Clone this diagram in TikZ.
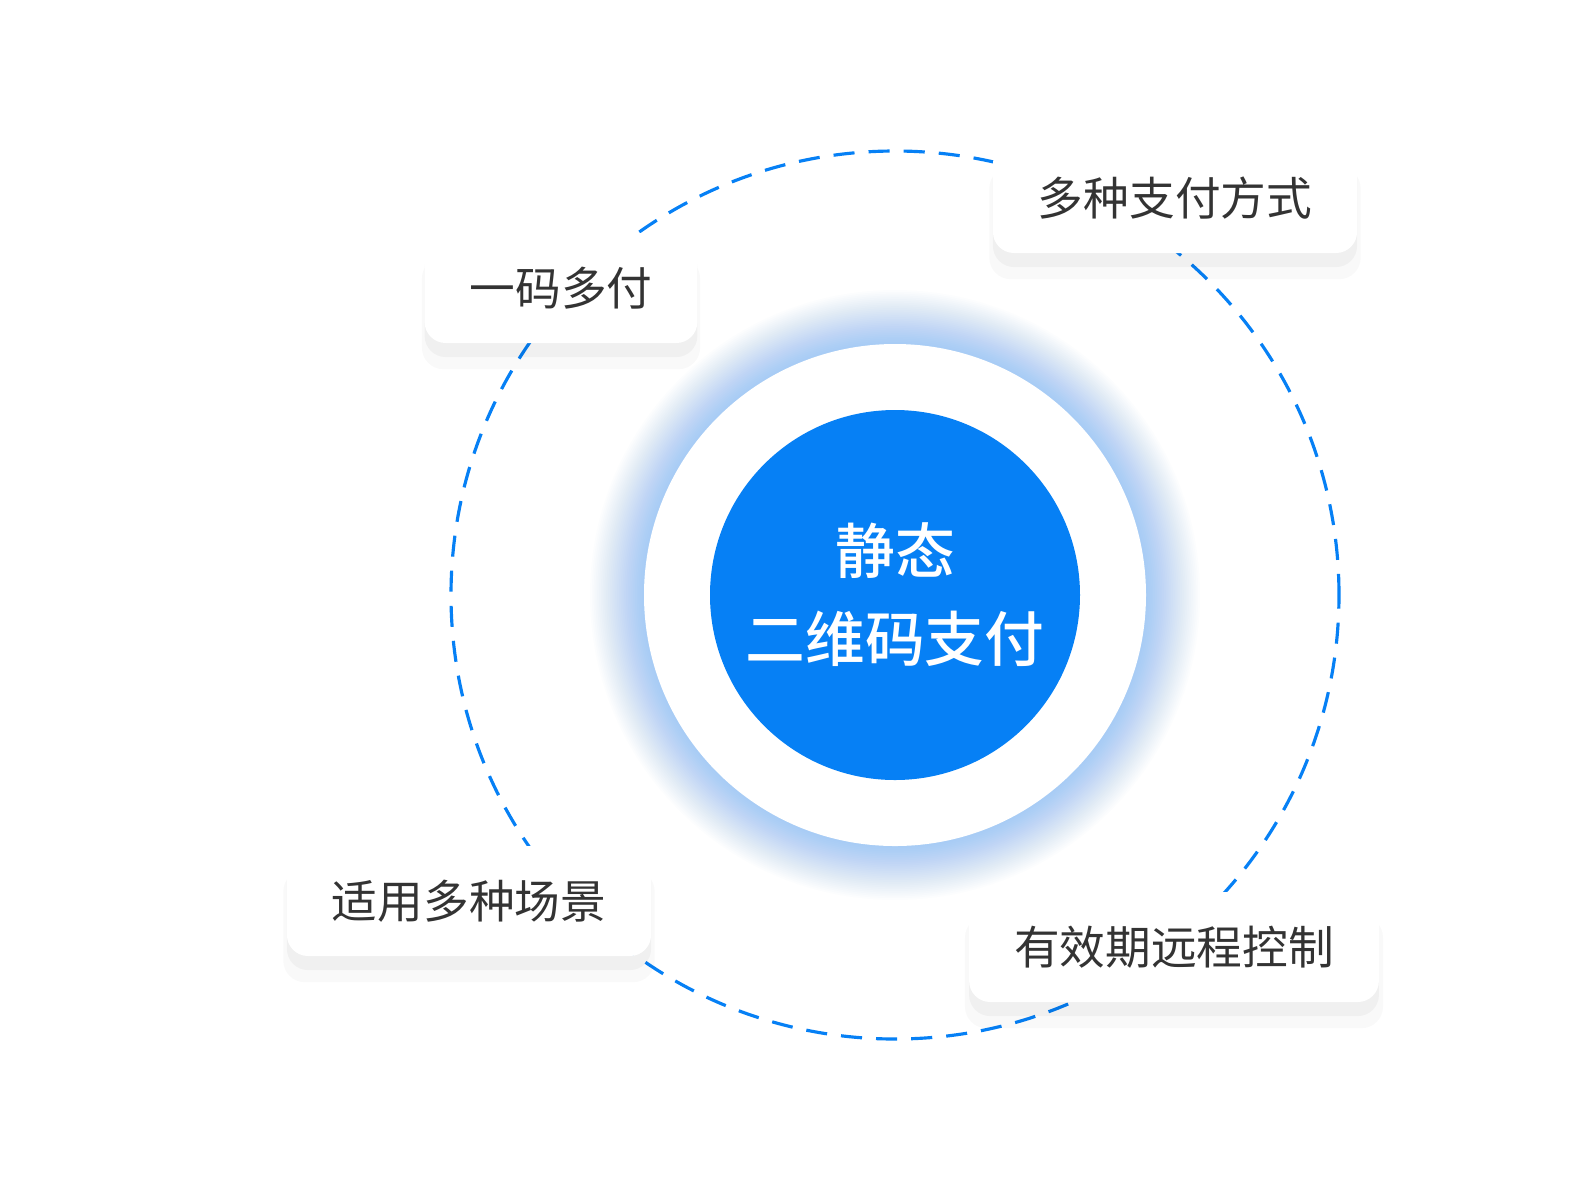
\documentclass[tikz,border=0pt]{standalone}
\usepackage{fontspec}
\newfontfamily\cjk{Noto Sans CJK SC}
\newfontfamily\cjkmed{Noto Sans CJK SC Medium}
\usetikzlibrary{shadows}
\definecolor{mainblue}{HTML}{0680F5}
\definecolor{darktext}{HTML}{333333}
\tikzset{
  feature/.style={rectangle, rounded corners=6pt, fill=white, minimum height=1.1cm,
    inner xsep=0.45cm, font=\cjk\fontsize{13}{15}\selectfont, text=darktext,
    general shadow={fill=black, opacity=0.025, shadow yshift=-7pt, shadow scale=1.02},
    general shadow={fill=black, opacity=0.035, shadow yshift=-4pt}}
}
\begin{document}
\begin{tikzpicture}
        \useasboundingbox[fill=white] (0,0) rectangle (15.9,-12);
        % Outer dashed ring
        \node[circle, draw=mainblue, dash pattern=on 6pt off 4pt, line width=0.9pt, minimum size=8.88cm] (ring) at (8.95,-5.95) {};

        % Soft glow around the white disc
        \foreach \i in {0,...,29}
            \fill[mainblue, opacity=0.011] (ring.center) circle ({3.05-0.018*\i});
        \node[circle, fill=white, minimum size=5.02cm] (disc) at (ring.center) {};
        \node[circle, fill=mainblue, minimum size=3.7cm, align=center, text=white,
              font=\cjkmed\fontsize{17}{25}\selectfont] (core) at (ring.center) {静态\\二维码支付};

        % Feature boxes
        \node[feature, minimum width=2.66cm] (one) at (5.61,-2.88) {一码多付};
        \node[feature, minimum width=3.52cm] (ways) at (11.75,-1.98) {多种支付方式};
        \node[feature, minimum width=3.53cm] (scene) at (4.69,-9.01) {适用多种场景};
        \node[feature, minimum width=3.99cm] (ctrl) at (11.74,-9.47) {有效期远程控制};
\end{tikzpicture}
\end{document}
